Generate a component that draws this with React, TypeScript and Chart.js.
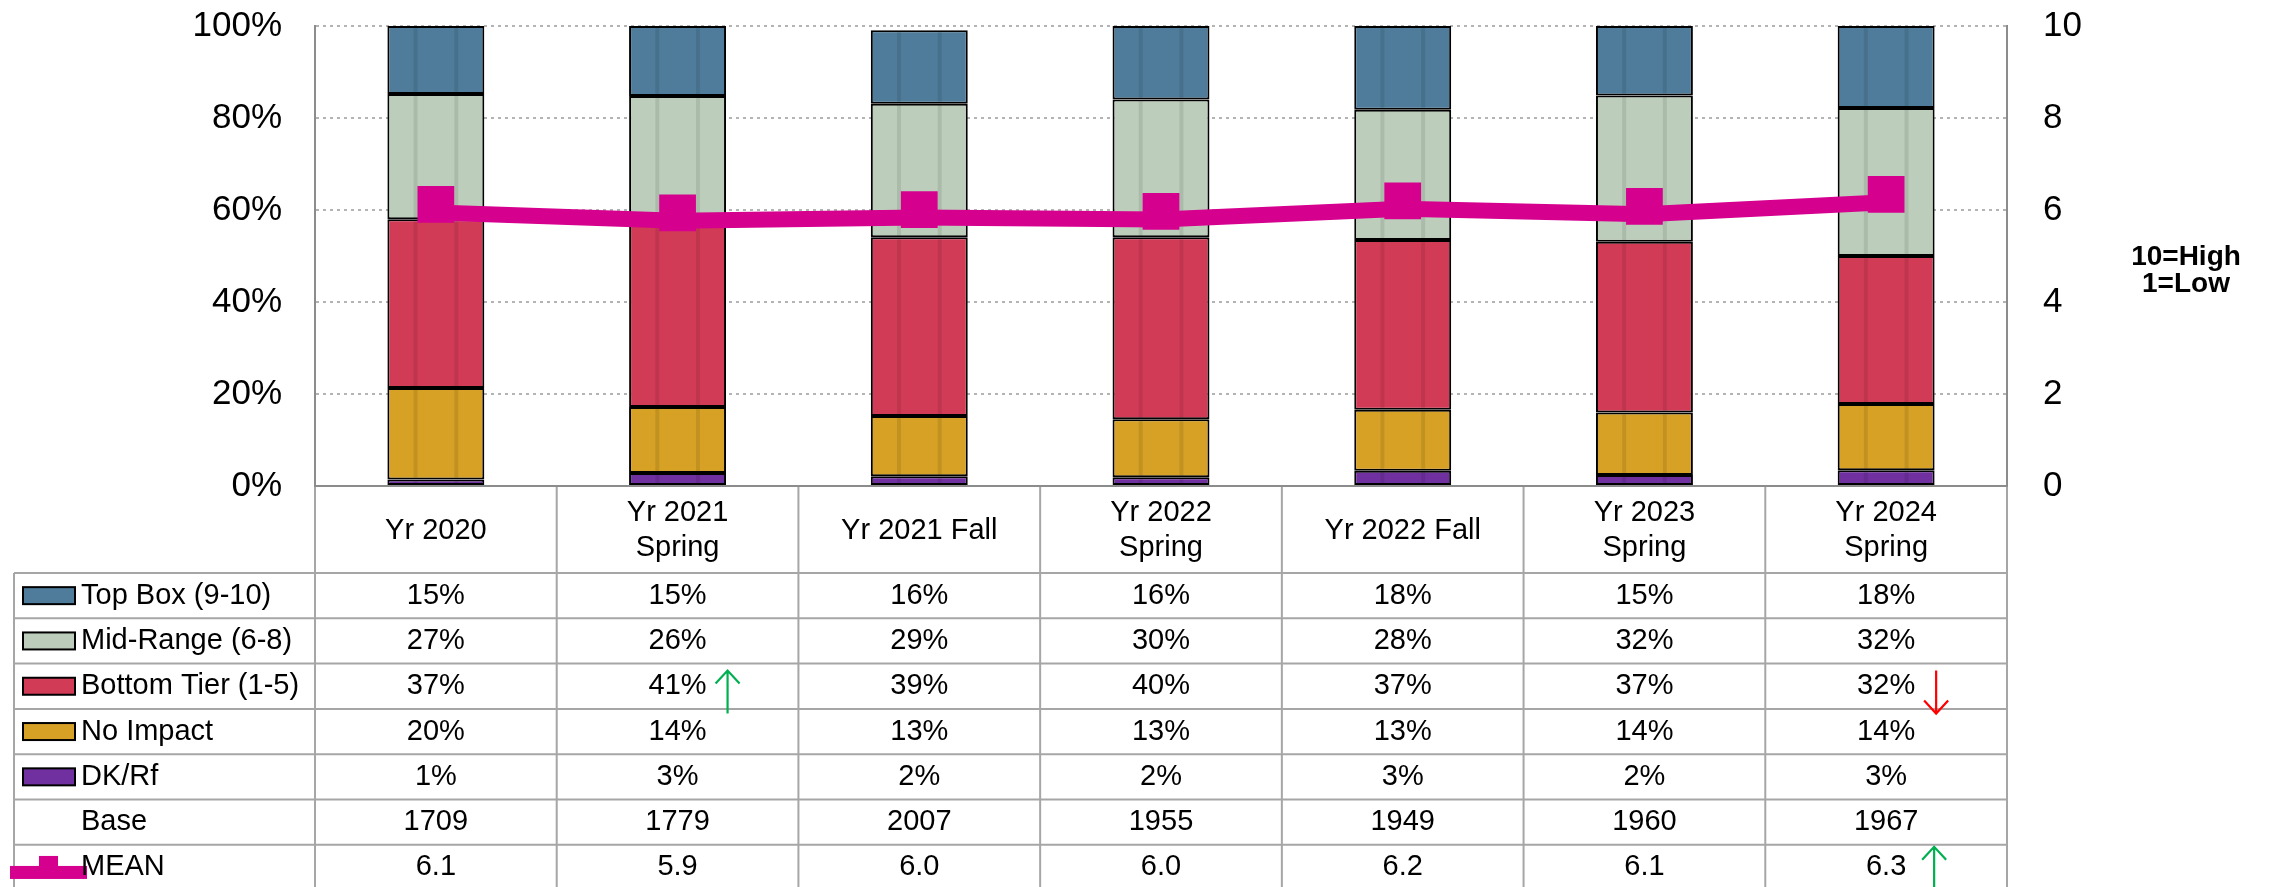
import React, { useEffect, useRef } from "react";
import { Chart, registerables } from "chart.js";

Chart.register(...registerables);

// ---------- data ----------
const categories: string[][] = [
  ["Yr 2020"],
  ["Yr 2021", "Spring"],
  ["Yr 2021 Fall"],
  ["Yr 2022", "Spring"],
  ["Yr 2022 Fall"],
  ["Yr 2023", "Spring"],
  ["Yr 2024", "Spring"],
];
const topBox = [14.8, 15.2, 16.0, 16.0, 18.2, 15.1, 17.8];
const midRange = [27.2, 26.4, 29.0, 29.9, 28.3, 31.8, 32.2];
const bottomTier = [36.7, 41.2, 38.9, 39.6, 36.9, 37.1, 32.2];
const noImpact = [19.9, 14.4, 13.1, 12.6, 13.3, 13.6, 14.4];
const dkRf = [1.4, 2.8, 2.1, 1.9, 3.3, 2.4, 3.4];
const baseCounts = [1709, 1779, 2007, 1955, 1949, 1960, 1967];
const meanScores = [6.12, 5.94, 6.01, 5.97, 6.2, 6.08, 6.34];
const leftTicks = [0, 20, 40, 60, 80, 100];
const rightTicks = [0, 2, 4, 6, 8, 10];
const bottomTierSig = ["", "up", "", "", "", "", "down"];
const meanSig = ["", "", "", "", "", "", "up"];
const scaleNote = ["10=High", "1=Low"];

// ---------- styles ----------
const FONT = '"Liberation Sans", Arial, sans-serif';
const C_TOP = "#4E7C9A";
const C_MID = "#BCCEBB";
const C_BOT = "#D23B56";
const C_NOI = "#D6A125";
const C_DK = "#7030A0";
const C_MEAN = "#D6008F";
const AXIS_GRAY = "#8C8C8C";
const TABLE_GRAY = "#A6A6A6";
const W = 2272;
const H = 887;
const HEADER_H = 87;
const ROW_H = 45.3;
const TABLE_LEFT = 14;

const barCommon = {
  borderColor: "#000",
  borderWidth: 2,
  borderSkipped: false as const,
  barPercentage: 0.401,
  categoryPercentage: 1,
  yAxisID: "y",
  order: 1,
  stack: "s",
};

const lineShiftPlugin = {
  id: "lineShift",
  beforeDatasetDraw(chart: any, args: any) {
    if (args.index === 0) {
      chart.ctx.save();
      chart.ctx.translate(0, 8);
    }
  },
  afterDatasetDraw(chart: any, args: any) {
    if (args.index === 0) chart.ctx.restore();
    // subtle vertical shading stripes on bars
    if (args.index >= 2) {
      const ctx = chart.ctx;
      const meta = args.meta;
      ctx.save();
      meta.data.forEach((el: any) => {
        const w = el.width;
        const x0 = el.x - w / 2;
        const top = Math.min(el.y, el.base) + 1;
        const h = Math.abs(el.base - el.y) - 2;
        if (h <= 0) return;
        ctx.fillStyle = "rgba(0,0,0,0.09)";
        ctx.fillRect(x0 + w * 0.27, top, 4, h);
        ctx.fillRect(x0 + w * 0.69, top, 4, h);
      });
      ctx.restore();
    }
  },
};

function drawArrow(ctx: CanvasRenderingContext2D, x: number, y1: number, y2: number, dir: string, color: string) {
  ctx.save();
  ctx.strokeStyle = color;
  ctx.lineWidth = 2.2;
  ctx.beginPath();
  ctx.moveTo(x, y1);
  ctx.lineTo(x, y2);
  const headY = dir === "up" ? y1 : y2;
  const s = dir === "up" ? 1 : -1;
  ctx.moveTo(x - 12, headY + s * 13);
  ctx.lineTo(x, headY);
  ctx.lineTo(x + 12, headY + s * 13);
  ctx.stroke();
  ctx.restore();
}

const tablePlugin = {
  id: "dataTable",
  afterDraw(chart: any) {
    const ctx: CanvasRenderingContext2D = chart.ctx;
    const { left, right, bottom } = chart.chartArea;
    const xs = chart.scales.x;
    const n = categories.length;
    const colW = (right - left) / n;
    const headerBottom = bottom + HEADER_H;
    const centers = categories.map((_, i) => xs.getPixelForValue(i));

    ctx.save();
    // grid lines
    ctx.strokeStyle = TABLE_GRAY;
    ctx.lineWidth = 2;
    ctx.beginPath();
    for (let i = 0; i <= n; i++) {
      const x = i < n ? centers[i] - colW / 2 : right;
      ctx.moveTo(x, bottom + 1);
      ctx.lineTo(x, H);
    }
    ctx.moveTo(TABLE_LEFT, headerBottom);
    ctx.lineTo(TABLE_LEFT, H);
    for (let k = 0; k < 7; k++) {
      const y = headerBottom + k * ROW_H;
      ctx.moveTo(TABLE_LEFT, y);
      ctx.lineTo(right, y);
    }
    ctx.stroke();

    // header
    ctx.fillStyle = "#000";
    ctx.font = `29px ${FONT}`;
    ctx.textAlign = "center";
    ctx.textBaseline = "middle";
    const hc = bottom + HEADER_H / 2;
    categories.forEach((lines, i) => {
      const lh = 35;
      const start = hc - ((lines.length - 1) * lh) / 2;
      lines.forEach((t, j) => ctx.fillText(t, centers[i], start + j * lh + 1));
    });

    // rows
    const rows: { label: string; color?: string; values: string[]; mean?: boolean }[] = [
      { label: "Top Box (9-10)", color: C_TOP, values: topBox.map((v) => Math.round(v) + "%") },
      { label: "Mid-Range (6-8)", color: C_MID, values: midRange.map((v) => Math.round(v) + "%") },
      { label: "Bottom Tier (1-5)", color: C_BOT, values: bottomTier.map((v) => Math.round(v) + "%") },
      { label: "No Impact", color: C_NOI, values: noImpact.map((v) => Math.round(v) + "%") },
      { label: "DK/Rf", color: C_DK, values: dkRf.map((v) => Math.round(v) + "%") },
      { label: "Base", values: baseCounts.map((v) => String(v)) },
      { label: "MEAN", values: meanScores.map((v) => v.toFixed(1)), mean: true },
    ];
    rows.forEach((r, k) => {
      const top = headerBottom + k * ROW_H;
      const cy = top + ROW_H / 2;
      if (r.color) {
        ctx.fillStyle = r.color;
        ctx.fillRect(23, cy - 8.5, 52, 17);
        ctx.strokeStyle = "#000";
        ctx.lineWidth = 2;
        ctx.strokeRect(23, cy - 8.5, 52, 17);
      }
      if (r.mean) {
        ctx.fillStyle = C_MEAN;
        ctx.fillRect(10, cy - 1.5, 77, 13);
        ctx.fillRect(39, cy - 11.5, 19, 11);
      }
      ctx.fillStyle = "#000";
      ctx.textAlign = "left";
      ctx.fillText(r.label, 81, cy);
      ctx.textAlign = "center";
      r.values.forEach((v, i) => ctx.fillText(v, centers[i], cy));
    });

    // significance arrows
    const btTop = headerBottom + 2 * ROW_H;
    bottomTierSig.forEach((d, i) => {
      if (!d) return;
      drawArrow(ctx, centers[i] + 50, btTop + 7, btTop + 50, d, d === "up" ? "#00B050" : "#FF0000");
    });
    const mTop = headerBottom + 6 * ROW_H;
    meanSig.forEach((d, i) => {
      if (!d) return;
      drawArrow(ctx, centers[i] + 48, mTop + 2, mTop + 46, d, d === "up" ? "#00B050" : "#FF0000");
    });

    // scale note on the right
    ctx.font = `bold 28px ${FONT}`;
    ctx.textAlign = "center";
    ctx.fillStyle = "#000";
    scaleNote.forEach((t, j) => ctx.fillText(t, 2186, 257 + j * 27));
    ctx.restore();
  },
};

const noVPad = (s: any) => {
  s.paddingTop = 0;
  s.paddingBottom = 0;
};

export default function App() {
  const ref = useRef<HTMLCanvasElement>(null);

  useEffect(() => {
    const canvas = ref.current;
    if (!canvas) return;
    Chart.defaults.font.family = FONT;
    const chart = new Chart(canvas, {
      type: "bar",
      data: {
        labels: categories.map((c) => c.join(" ")),
        datasets: [
          {
            type: "line",
            label: "MEAN line",
            data: meanScores,
            yAxisID: "y1",
            borderColor: C_MEAN,
            backgroundColor: C_MEAN,
            borderWidth: 16,
            pointRadius: 0,
            tension: 0,
            order: 0,
          } as any,
          {
            type: "line",
            label: "MEAN",
            data: meanScores,
            yAxisID: "y1",
            showLine: false,
            pointStyle: "rect",
            pointRadius: 26,
            pointBackgroundColor: C_MEAN,
            pointBorderColor: C_MEAN,
            pointBorderWidth: 0,
            order: -1,
          } as any,
          { ...barCommon, label: "DK/Rf", data: dkRf, backgroundColor: C_DK } as any,
          { ...barCommon, label: "No Impact", data: noImpact, backgroundColor: C_NOI } as any,
          { ...barCommon, label: "Bottom Tier (1-5)", data: bottomTier, backgroundColor: C_BOT } as any,
          { ...barCommon, label: "Mid-Range (6-8)", data: midRange, backgroundColor: C_MID } as any,
          { ...barCommon, label: "Top Box (9-10)", data: topBox, backgroundColor: C_TOP } as any,
        ],
      },
      options: {
        responsive: false,
        animation: false,
        devicePixelRatio: 1,
        layout: { padding: { top: 26, left: 0, right: 0, bottom: 0 } },
        plugins: { legend: { display: false }, tooltip: { enabled: false } },
        scales: {
          x: {
            stacked: true,
            grid: { display: false },
            ticks: { display: false },
            border: { display: true, color: AXIS_GRAY, width: 2 },
            afterFit: (s: any) => {
              s.height = H - 486;
              s.paddingLeft = 0;
              s.paddingRight = 0;
            },
          },
          y: {
            type: "linear",
            position: "left",
            stacked: true,
            min: 0,
            max: 100,
            afterBuildTicks: (s: any) => {
              s.ticks = leftTicks.map((v) => ({ value: v }));
            },
            ticks: {
              padding: 33,
              color: "#000",
              font: { size: 35, family: FONT },
              callback: (v: any) => v + "%",
            },
            grid: { color: "#B4B4B4", lineWidth: 2, drawTicks: false },
            border: { display: true, color: AXIS_GRAY, width: 2, dash: [3, 4] },
            afterFit: (s: any) => {
              s.width = 315;
              noVPad(s);
            },
          },
          y1: {
            type: "linear",
            position: "right",
            min: 0,
            max: 10,
            afterBuildTicks: (s: any) => {
              s.ticks = rightTicks.map((v) => ({ value: v }));
            },
            ticks: {
              padding: 36,
              color: "#000",
              font: { size: 35, family: FONT },
            },
            grid: { display: false, drawTicks: false },
            border: { display: true, color: AXIS_GRAY, width: 2 },
            afterFit: (s: any) => {
              s.width = W - 2007;
              noVPad(s);
            },
          },
        },
      } as any,
      plugins: [lineShiftPlugin, tablePlugin],
    });
    return () => chart.destroy();
  }, []);

  return (
    <div style={{ position: "fixed", left: 0, top: 0, width: W, height: H, background: "#fff" }}>
      <canvas ref={ref} width={W} height={H} style={{ display: "block", width: W, height: H }} />
    </div>
  );
}
